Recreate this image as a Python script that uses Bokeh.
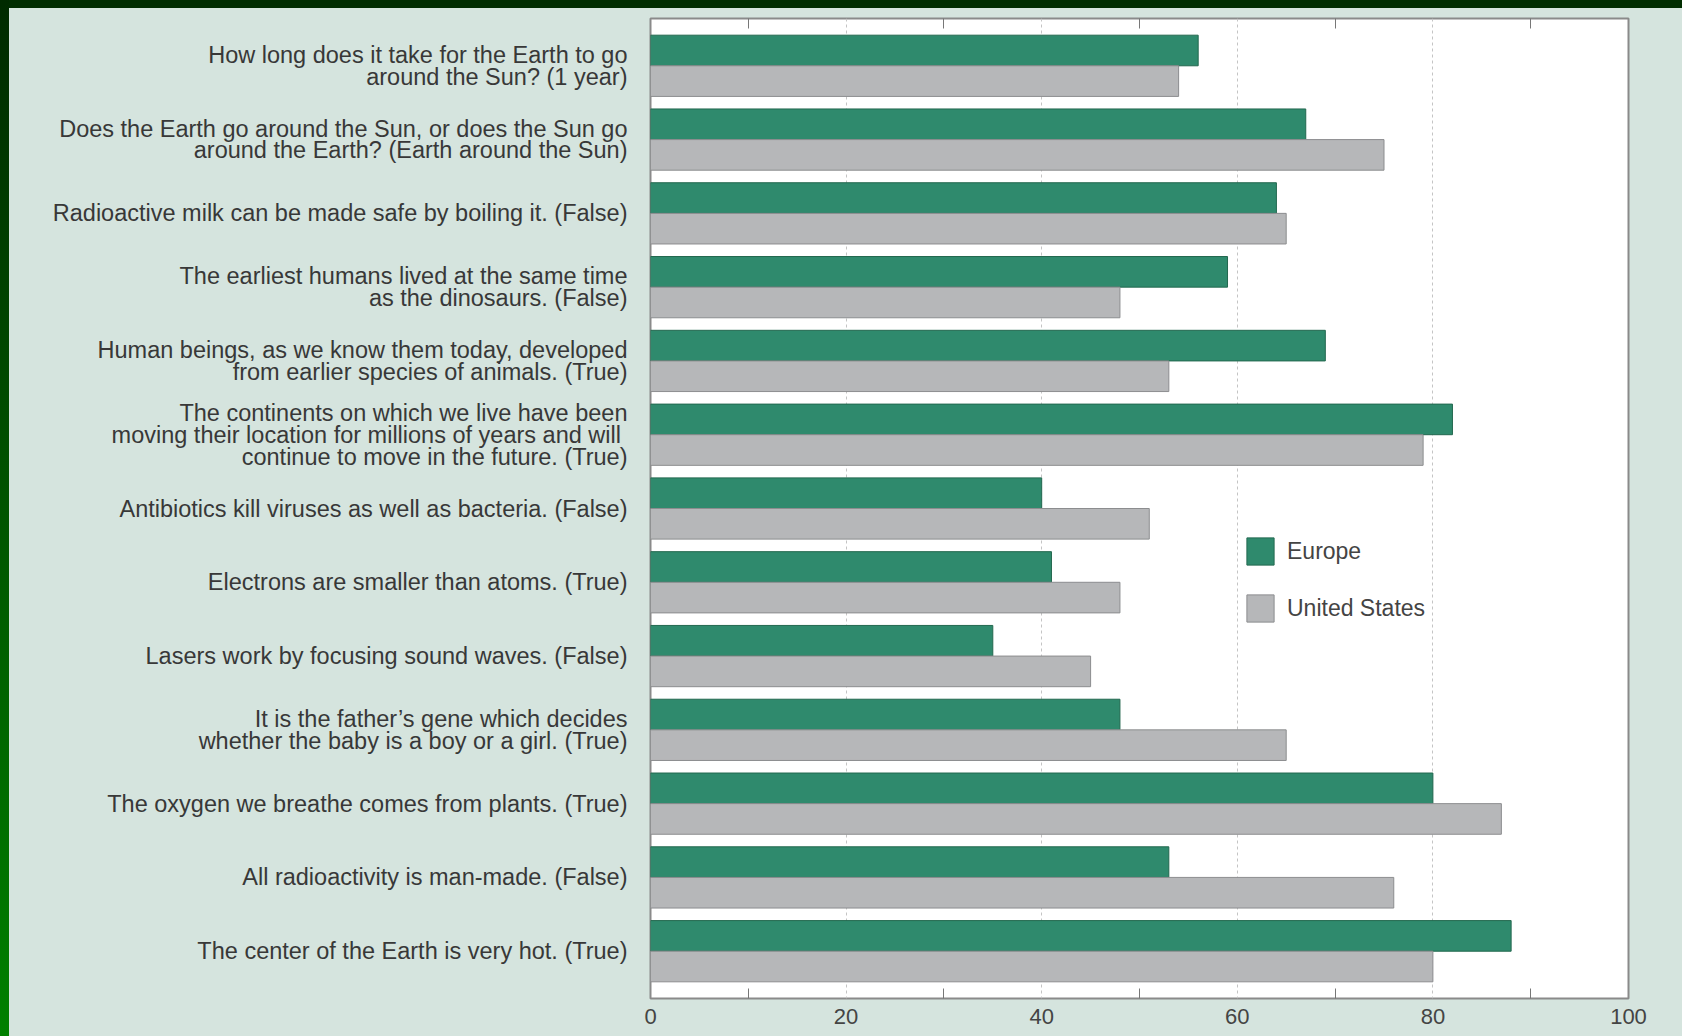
from bokeh.plotting import figure
from bokeh.models import (Range1d, FixedTicker, LinearAxis, Legend, LegendItem)
from bokeh.transform import dodge
from bokeh.models import ColumnDataSource
from bokeh.embed import file_html
from bokeh.resources import INLINE

questions = [
    "How long does it take for the Earth to go\naround the Sun? (1 year)",
    "Does the Earth go around the Sun, or does the Sun go\naround the Earth? (Earth around the Sun)",
    "Radioactive milk can be made safe by boiling it. (False)",
    "The earliest humans lived at the same time\nas the dinosaurs. (False)",
    "Human beings, as we know them today, developed\nfrom earlier species of animals. (True)",
    "The continents on which we live have been\nmoving their location for millions of years and will \ncontinue to move in the future. (True)",
    "Antibiotics kill viruses as well as bacteria. (False)",
    "Electrons are smaller than atoms. (True)",
    "Lasers work by focusing sound waves. (False)",
    "It is the father\u2019s gene which decides\nwhether the baby is a boy or a girl. (True)",
    "The oxygen we breathe comes from plants. (True)",
    "All radioactivity is man-made. (False)",
    "The center of the Earth is very hot. (True)",
]
europe = [56, 67, 64, 59, 69, 82, 40, 41, 35, 48, 80, 53, 88]
united_states = [54, 75, 65, 48, 53, 79, 51, 48, 45, 65, 87, 76, 80]
series_names = ["Europe", "United States"]
x_ticks = [0, 20, 40, 60, 80, 100]
x_minor = [10, 30, 50, 70, 90]
grid_ticks = [20, 40, 60, 80]

FONT = "Liberation Sans"
GREEN = "#2f8a6d"
GREEN_LINE = "#23684f"
GRAY = "#b6b7b9"
GRAY_LINE = "#8c8d8f"
PANEL = "#d5e4de"

pos = list(range(len(questions)))
src = ColumnDataSource(dict(y=pos, europe=europe, us=united_states))

n = len(questions)
pad = 0.641
bar_h = 0.415

p = figure(width=1673, height=1028, output_backend="svg", toolbar_location=None,
           x_range=Range1d(0, 100), y_range=Range1d(n - 1 + pad, -pad),
           x_axis_location=None, y_axis_location=None,
           min_border_left=641, min_border_right=54, min_border_top=10,
           min_border_bottom=38)
p.background_fill_color = "white"
p.border_fill_color = PANEL
p.outline_line_color = "#8a8a8a"
p.outline_line_width = 2

r1 = p.hbar(y=dodge("y", -bar_h / 2, range=p.y_range), height=bar_h, left=0, right="europe",
            source=src, fill_color=GREEN, line_color=GREEN_LINE, line_width=1)
r2 = p.hbar(y=dodge("y", bar_h / 2, range=p.y_range), height=bar_h, left=0, right="us",
            source=src, fill_color=GRAY, line_color=GRAY_LINE, line_width=1)

# bottom axis
xb = LinearAxis(ticker=FixedTicker(ticks=x_ticks, minor_ticks=x_minor))
xb.axis_line_color = None
xb.major_tick_line_color = None
xb.minor_tick_in = 10
xb.minor_tick_out = 0
xb.minor_tick_line_color = "#777777"
xb.minor_tick_line_width = 1
xb.major_label_text_font = FONT
xb.major_label_text_font_size = "22px"
xb.major_label_text_color = "#444444"
xb.major_label_standoff = 4
p.add_layout(xb, "below")

# top axis (minor ticks only, no labels)
xt = LinearAxis(ticker=FixedTicker(ticks=[], minor_ticks=x_minor))
xt.axis_line_color = None
xt.major_tick_line_color = None
xt.minor_tick_in = 10
xt.minor_tick_out = 0
xt.minor_tick_line_color = "#777777"
xt.major_label_standoff = 0
p.add_layout(xt, "above")

# left axis with question labels
yl = LinearAxis(ticker=FixedTicker(ticks=pos))
yl.major_label_overrides = {i: q for i, q in zip(pos, questions)}
yl.axis_line_color = None
yl.major_tick_line_color = None
yl.minor_tick_line_color = None
yl.major_label_text_font = FONT
yl.major_label_text_font_size = "23.5px"
yl.major_label_text_color = "#383838"
yl.major_label_text_line_height = 0.84
yl.major_label_standoff = 17
p.add_layout(yl, "left")

p.xgrid.ticker = FixedTicker(ticks=grid_ticks)
p.xgrid.grid_line_color = "#c4c4c4"
p.xgrid.grid_line_dash = "3 3"
p.xgrid.grid_line_width = 1
p.ygrid.grid_line_color = None

legend = Legend(items=[LegendItem(label=series_names[0], renderers=[r1]),
                       LegendItem(label=series_names[1], renderers=[r2])],
                location=(593, 373), orientation="vertical")
legend.background_fill_alpha = 0
legend.border_line_alpha = 0
legend.padding = 0
legend.margin = 0
legend.spacing = 23
legend.glyph_width = 34
legend.glyph_height = 34
legend.label_standoff = 10
legend.label_text_font = FONT
legend.label_text_font_size = "23px"
legend.label_text_color = "#444444"
p.add_layout(legend, "center")

html = file_html(p, INLINE)
css = ("<style>html{padding:8px 0 0 9px !important;"
       "background:linear-gradient(to bottom,#002a00,#008000) 0 0/9px 100% no-repeat,#002d00 !important;}"
       "body{background:" + PANEL + ";}</style>")
html = html.replace("</head>", css + "</head>", 1)
open("out.html", "w").write(html)
